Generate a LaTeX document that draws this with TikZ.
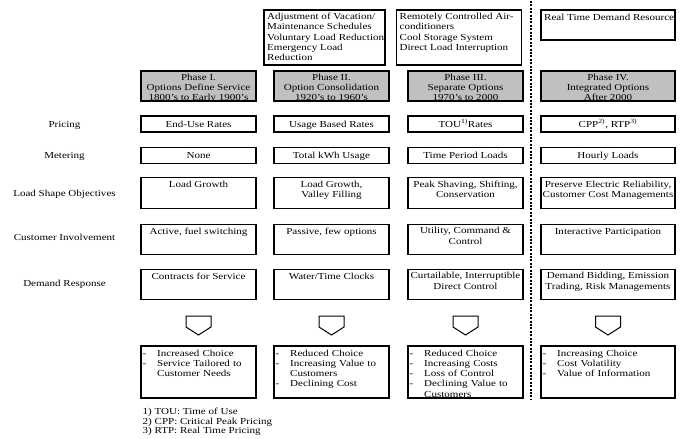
\documentclass[tikz,border=0pt]{standalone}
\usepackage{fontspec}
\setmainfont{Liberation Serif}[FakeStretch=1.2]
\newcommand\dfont{\fontsize{9.2}{10.3}\selectfont}
\newcommand\notefont{\fontsize{9.2}{9.7}\selectfont}
% list entry with a leading dash, and a continuation line
\newcommand\ditem[1]{\makebox[14.5pt][l]{-}#1}
\newcommand\dcont[1]{\hspace*{14.5pt}#1}
\definecolor{phasegray}{RGB}{192,192,192}
\tikzset{
  cell/.style={draw, line width=1.1pt, inner sep=0pt, outer sep=0pt, minimum height=#1},
  wA/.style={minimum width=115pt},
  wB/.style={minimum width=134pt},
  phase/.style={cell=30pt, fill=phasegray},
  one/.style={font=\dfont, text height=6.5pt, text depth=0.5pt},
  toptext/.style={anchor=north, inner sep=0pt, align=center, font=\dfont,
    execute at begin node=\rule{0pt}{7pt}},
  lefttext/.style={anchor=north west, inner sep=0pt, align=left, font=\dfont,
    execute at begin node=\rule{0pt}{7pt}},
  rowlabel/.style={font=\dfont, text height=6.5pt, text depth=0.5pt, inner sep=0pt},
  arrowshape/.style={draw, line width=1pt, line join=miter},
  divider/.style={line width=2pt, dash pattern=on 2pt off 1.4pt}
}
\begin{document}
\begin{tikzpicture}[x=1pt, y=-1pt]
\useasboundingbox (0,0) rectangle (683,439);
\fill[white] (0,0) rectangle (683,439);

% ---- upper boxes: technologies of each era ----
\node[cell=55pt, minimum width=121pt] (up2) at (324.5,37.5) {};
\node[lefttext] (up2t) at ([xshift=3pt,yshift=-3pt]up2.north west)
  {Adjustment of Vacation/\\Maintenance Schedules\\Voluntary Load Reduction\\Emergency Load\\Reduction};
\node[cell=55pt, minimum width=125pt] (up3) at (459,37.5) {};
\node[lefttext] (up3t) at ([xshift=3pt,yshift=-3pt]up3.north west)
  {Remotely Controlled Air-\\conditioners\\Cool Storage System\\Direct Load Interruption};
\node[cell=30pt, wB] (up4) at (608,25) {};
\node[lefttext] (up4t) at ([xshift=3pt,yshift=-3pt]up4.north west)
  {Real Time Demand Resource};

% ---- phase headers ----
\node[phase, wA] (ph1) at (198.5,86) {};
\node[phase, wA] (ph2) at (331.5,86) {};
\node[phase, wA] (ph3) at (465.5,86) {};
\node[phase, wB] (ph4) at (608,86) {};
\node[toptext] (ph1t) at ([yshift=-2.7pt]ph1.north) {Phase I.\\Options Define Service\\1800's to Early 1900's};
\node[toptext] (ph2t) at ([yshift=-2.7pt]ph2.north) {Phase II.\\Option Consolidation\\1920's to 1960's};
\node[toptext] (ph3t) at ([yshift=-2.7pt]ph3.north) {Phase III.\\Separate Options\\1970's to 2000};
\node[toptext] (ph4t) at ([yshift=-2.7pt]ph4.north) {Phase IV.\\Integrated Options\\After 2000};

% ---- row labels ----
\node[rowlabel] (lbpr) at (64.5,124) {Pricing};
\node[rowlabel] (lbme) at (64.5,155.5) {Metering};
\node[rowlabel] (lbls) at (64.5,193) {Load Shape Objectives};
\node[rowlabel] (lbci) at (64.5,237) {Customer Involvement};
\node[rowlabel] (lbdr) at (64.5,283) {Demand Response};

% ---- pricing ----
\node[cell=16pt, wA, one] (pr1) at (198.5,124) {End-Use Rates};
\node[cell=16pt, wA, one] (pr2) at (331.5,124) {Usage Based Rates};
\node[cell=16pt, wA, one] (pr3) at (465.5,124) {TOU\textsuperscript{1)}Rates};
\node[cell=16pt, wB, one] (pr4) at (608,124) {CPP\textsuperscript{2)}, RTP\textsuperscript{3)}};

% ---- metering ----
\node[cell=16pt, wA, one] (me1) at (198.5,155.5) {None};
\node[cell=16pt, wA, one] (me2) at (331.5,155.5) {Total kWh Usage};
\node[cell=16pt, wA, one] (me3) at (465.5,155.5) {Time Period Loads};
\node[cell=16pt, wB, one] (me4) at (608,155.5) {Hourly Loads};

% ---- load shape objectives ----
\node[cell=30.5pt, wA] (ls1) at (198.5,193) {};
\node[cell=30.5pt, wA] (ls2) at (331.5,193) {};
\node[cell=30.5pt, wA] (ls3) at (465.5,193) {};
\node[cell=30.5pt, wB] (ls4) at (608,193) {};
\node[toptext] (ls1t) at ([yshift=-3pt]ls1.north) {Load Growth};
\node[toptext] (ls2t) at ([yshift=-3pt]ls2.north) {Load Growth,\\Valley Filling};
\node[toptext] (ls3t) at ([yshift=-3pt]ls3.north) {Peak Shaving, Shifting,\\Conservation};
\node[toptext] (ls4t) at ([yshift=-3pt]ls4.north) {Preserve Electric Reliability,\\Customer Cost Managements};

% ---- customer involvement ----
\node[cell=30.5pt, wA] (ci1) at (198.5,239.5) {};
\node[cell=30.5pt, wA] (ci2) at (331.5,239.5) {};
\node[cell=30.5pt, wA] (ci3) at (465.5,239.5) {};
\node[cell=30.5pt, wB] (ci4) at (608,239.5) {};
\node[toptext] (ci1t) at ([yshift=-3pt]ci1.north) {Active, fuel switching};
\node[toptext] (ci2t) at ([yshift=-3pt]ci2.north) {Passive, few options};
\node[toptext] (ci3t) at ([yshift=-3pt]ci3.north) {Utility, Command \&\\Control};
\node[toptext] (ci4t) at ([yshift=-3pt]ci4.north) {Interactive Participation};

% ---- demand response ----
\node[cell=30.5pt, wA] (dr1) at (198.5,284.5) {};
\node[cell=30.5pt, wA] (dr2) at (331.5,284.5) {};
\node[cell=30.5pt, wA] (dr3) at (465.5,284.5) {};
\node[cell=30.5pt, wB] (dr4) at (608,284.5) {};
\node[toptext] (dr1t) at ([yshift=-3pt]dr1.north) {Contracts for Service};
\node[toptext] (dr2t) at ([yshift=-3pt]dr2.north) {Water/Time Clocks};
\node[toptext] (dr3t) at ([yshift=-3pt]dr3.north) {Curtailable, Interruptible\\Direct Control};
\node[toptext] (dr4t) at ([yshift=-3pt]dr4.north) {Demand Bidding, Emission\\Trading, Risk Managements};

% ---- downward block arrows ----
\foreach \n/\x in {1/198.5, 2/331.5, 3/465.5, 4/608} {
  \coordinate (ar\n) at (\x,316);
  \draw[arrowshape] (ar\n) ++(-12.5,0) -- ++(25,0) -- ++(0,11) -- ++(-12.5,8) -- ++(-12.5,-8) -- cycle;
}

% ---- outcome boxes ----
\node[cell=52pt, wA] (oc1) at (198.5,372) {};
\node[cell=52pt, wA] (oc2) at (331.5,372) {};
\node[cell=52pt, wA] (oc3) at (465.5,372) {};
\node[cell=52pt, wB] (oc4) at (608,372) {};
\node[lefttext, text width=110pt] (oc1t) at ([xshift=1.5pt,yshift=-2.8pt]oc1.north west)
  {\ditem{Increased Choice}\\\ditem{Service Tailored to}\\\dcont{Customer Needs}};
\node[lefttext, text width=110pt] (oc2t) at ([xshift=1.5pt,yshift=-2.8pt]oc2.north west)
  {\ditem{Reduced Choice}\\\ditem{Increasing Value to}\\\dcont{Customers}\\\ditem{Declining Cost}};
\node[lefttext, text width=110pt] (oc3t) at ([xshift=1.5pt,yshift=-2.8pt]oc3.north west)
  {\ditem{Reduced Choice}\\\ditem{Increasing Costs}\\\ditem{Loss of Control}\\\ditem{Declining Value to}\\\dcont{Customers}};
\node[lefttext, text width=128pt] (oc4t) at ([xshift=1.5pt,yshift=-2.8pt]oc4.north west)
  {\ditem{Increasing Choice}\\\ditem{Cost Volatility}\\\ditem{Value of Information}};

% ---- era divider ----
\coordinate (dvtop) at (530.5,1);
\coordinate (dvbot) at (530.5,400);
\draw[divider] (dvtop) -- (dvbot);

% ---- footnotes ----
\node[anchor=north west, inner sep=0pt, align=left, font=\notefont,
      execute at begin node=\rule{0pt}{7pt}] (notes) at (142.5,407.7)
  {1) TOU: Time of Use\\2) CPP: Critical Peak Pricing\\3) RTP: Real Time Pricing};
\end{tikzpicture}
\end{document}
